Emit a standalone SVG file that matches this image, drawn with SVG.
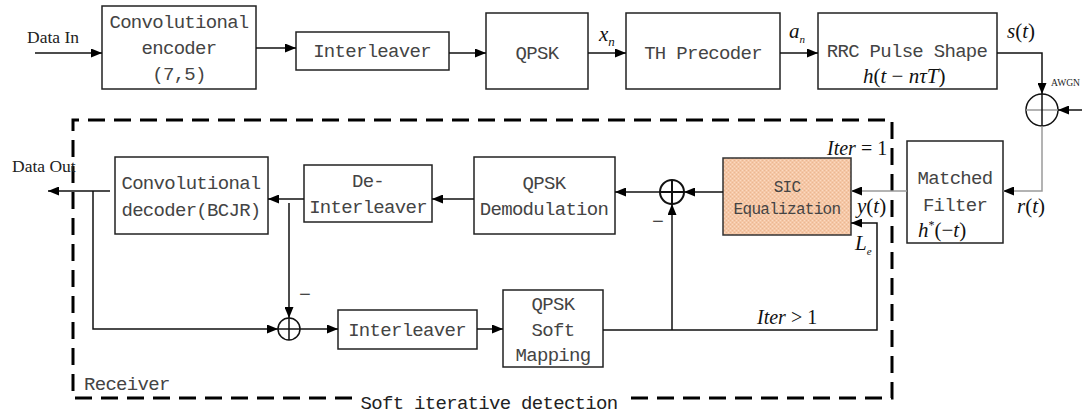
<svg xmlns="http://www.w3.org/2000/svg" width="1082" height="418" viewBox="0 0 1082 418">
  <style>
    .box { fill: #fff; stroke: #222; stroke-width: 1.5; }
    .sic { fill: url(#grain); stroke: #333; stroke-width: 1.5; }
    .t { font-family: "Liberation Mono", "DejaVu Sans Mono", monospace; font-size: 19px; letter-spacing: -0.7px; fill: #444; text-anchor: middle; }
    .ts { font-size: 16px; letter-spacing: -0.7px; }
    .lbl { font-family: "Liberation Serif", "Times New Roman", serif; font-size: 17.5px; fill: #222; }
    .m { font-family: "Liberation Serif", "Times New Roman", serif; font-size: 21px; fill: #111; }
    .i { font-style: italic; }
    .ln { fill: none; stroke: #111; stroke-width: 1.5; }
    .gr { stroke: #9a9a9a; }
    .arr { marker-end: url(#ah); }
    .sum { fill: #fff; stroke: #111; stroke-width: 1.5; }
    .dash { fill: none; stroke: #000; stroke-width: 3; stroke-dasharray: 17 9; }
  </style>
  <defs>
    <marker id="ah" markerUnits="userSpaceOnUse" markerWidth="11" markerHeight="9" refX="11" refY="4.5" orient="auto">
      <path d="M0,0 L11,4.5 L0,9 z" fill="#000"/>
    </marker>
    <pattern id="grain" patternUnits="userSpaceOnUse" width="4" height="4">
      <rect width="4" height="4" fill="#F5C7A6"/>
      <rect x="0" y="0" width="1" height="1" fill="#FBDAC2"/>
      <rect x="2" y="2" width="1" height="1" fill="#FBDAC2"/>
      <rect x="2" y="0" width="1" height="1" fill="#EBB792"/>
      <rect x="0" y="2" width="1" height="1" fill="#EBB792"/>
    </pattern>
  </defs>

  <!-- receiver boundary -->
  <g id="receiver-frame">
    <path class="dash" d="M352,398 H73 V120 H892 V398 H628"/>
    <text class="t" x="84" y="390" style="text-anchor:start">Receiver</text>
    <text class="t" x="489" y="409" style="fill:#222">Soft iterative detection</text>
  </g>

  <!-- transmitter chain -->
  <g id="conv-encoder">
    <rect class="box" x="102" y="6" width="154" height="83"/>
    <text class="t" x="179" y="28">Convolutional</text>
    <text class="t" x="179" y="54">encoder</text>
    <text class="t" x="179" y="80">(7,5)</text>
  </g>
  <g id="interleaver-tx">
    <rect class="box" x="296" y="32" width="153" height="38"/>
    <text class="t" x="372" y="57">Interleaver</text>
  </g>
  <g id="qpsk-tx">
    <rect class="box" x="486" y="13" width="102" height="76"/>
    <text class="t" x="537" y="59">QPSK</text>
  </g>
  <g id="th-precoder">
    <rect class="box" x="626" y="13" width="154" height="76"/>
    <text class="t" x="703" y="59">TH Precoder</text>
  </g>
  <g id="rrc-pulse">
    <rect class="box" x="818" y="13" width="179" height="76"/>
    <text class="t" x="907" y="57">RRC Pulse Shape</text>
    <text class="m" x="863" y="83"><tspan class="i">h</tspan>(<tspan class="i">t</tspan> − <tspan class="i">nτT</tspan>)</text>
  </g>
  <g id="awgn-sum">
    <circle class="sum" cx="1042" cy="110" r="16"/>
    <line x1="1026" y1="110" x2="1058" y2="110" stroke="#9a9a9a" stroke-width="1.5"/>
    <line x1="1042" y1="94" x2="1042" y2="126" stroke="#111" stroke-width="1.5"/>
    <text class="lbl" x="1051" y="86" style="font-size:10.5px" textLength="29" lengthAdjust="spacingAndGlyphs">AWGN</text>
  </g>

  <!-- receiver blocks -->
  <g id="matched-filter">
    <rect class="box" x="907" y="141" width="96" height="102"/>
    <text class="t" x="955" y="184">Matched</text>
    <text class="t" x="955" y="211">Filter</text>
    <text class="m" x="918" y="237"><tspan class="i">h</tspan><tspan dy="-8" style="font-size:12px">*</tspan><tspan dy="8">(−</tspan><tspan class="i">t</tspan>)</text>
  </g>
  <g id="sic-equalization">
    <rect class="sic" x="723" y="158" width="128" height="77"/>
    <text class="t ts" x="787" y="192">SIC</text>
    <text class="t ts" x="787" y="214">Equalization</text>
  </g>
  <g id="cancel-sum">
    <circle class="sum" cx="672" cy="192" r="12" style="stroke-width:2"/>
    <path class="ln" d="M660,192 H684 M672,180 V204" style="stroke-width:2"/>
  </g>
  <g id="qpsk-demod">
    <rect class="box" x="474" y="157" width="141" height="77"/>
    <text class="t" x="544" y="189">QPSK</text>
    <text class="t" x="544" y="215">Demodulation</text>
  </g>
  <g id="deinterleaver">
    <rect class="box" x="304" y="165" width="128" height="57"/>
    <text class="t" x="368" y="187">De-</text>
    <text class="t" x="368" y="213">Interleaver</text>
  </g>
  <g id="conv-decoder">
    <rect class="box" x="115" y="157" width="153" height="77"/>
    <text class="t" x="191" y="189">Convolutional</text>
    <text class="t" x="191" y="216">decoder(BCJR)</text>
  </g>
  <g id="extrinsic-sum">
    <circle class="sum" cx="289" cy="329" r="11"/>
    <path class="ln" d="M278,329 H300 M289,318 V340"/>
  </g>
  <g id="interleaver-rx">
    <rect class="box" x="338" y="310" width="139" height="39"/>
    <text class="t" x="407" y="336">Interleaver</text>
  </g>
  <g id="qpsk-soft-mapping">
    <rect class="box" x="503" y="290" width="100" height="77"/>
    <text class="t" x="553" y="310">QPSK</text>
    <text class="t" x="553" y="336">Soft</text>
    <text class="t" x="553" y="361">Mapping</text>
  </g>

  <!-- connectors -->
  <g id="connectors">
    <line class="ln arr" x1="35" y1="53" x2="102" y2="53"/>
    <line class="ln arr" x1="256" y1="48" x2="296" y2="48"/>
    <line class="ln arr" x1="449" y1="53" x2="486" y2="53"/>
    <line class="ln arr" x1="588" y1="53" x2="626" y2="53"/>
    <line class="ln arr" x1="780" y1="53" x2="818" y2="53"/>
    <path class="ln arr" d="M997,53 H1042 V94"/>
    <line class="ln arr" x1="1082" y1="110" x2="1058" y2="110"/>
    <path class="ln gr arr" d="M1042,126 V191 H1003"/>
    <line class="ln gr arr" x1="907" y1="191" x2="851" y2="191"/>
    <line class="ln arr" x1="723" y1="192" x2="684" y2="192"/>
    <line class="ln arr" x1="660" y1="192" x2="615" y2="192"/>
    <line class="ln arr" x1="474" y1="199" x2="432" y2="199"/>
    <line class="ln arr" x1="304" y1="199" x2="268" y2="199"/>
    <line class="ln arr" x1="289" y1="203" x2="289" y2="318"/>
    <line class="ln arr" x1="110" y1="191" x2="48" y2="191"/>
    <path class="ln arr" d="M93,191 V329 H278"/>
    <line class="ln arr" x1="300" y1="329" x2="338" y2="329"/>
    <line class="ln arr" x1="477" y1="329" x2="503" y2="329"/>
    <path class="ln arr" d="M603,330 H877 V223 H851"/>
    <line class="ln arr" x1="672" y1="330" x2="672" y2="204"/>
  </g>

  <!-- signal labels -->
  <g id="labels">
    <text class="lbl" x="27" y="43">Data In</text>
    <text class="lbl" x="12" y="172">Data Out</text>
    <text class="m" x="599" y="41"><tspan class="i">x</tspan><tspan class="i" dy="5" style="font-size:13px">n</tspan></text>
    <text class="m" x="789" y="38"><tspan class="i">a</tspan><tspan class="i" dy="5" style="font-size:11px">n</tspan></text>
    <text class="m" x="1007" y="38"><tspan class="i">s</tspan>(<tspan class="i">t</tspan>)</text>
    <text class="m" x="827" y="155" style="font-size:20px"><tspan class="i">Iter</tspan> = 1</text>
    <text class="m" x="857" y="213"><tspan class="i">y</tspan>(<tspan class="i">t</tspan>)</text>
    <text class="m" x="855" y="250"><tspan class="i">L</tspan><tspan class="i" dy="5" style="font-size:11px">e</tspan></text>
    <text class="m" x="1017" y="213"><tspan class="i">r</tspan>(<tspan class="i">t</tspan>)</text>
    <text class="m" x="757" y="324" style="font-size:20px"><tspan class="i">Iter</tspan> &gt; 1</text>
    <text class="m" x="652" y="228">−</text>
    <text class="m" x="299" y="301">−</text>
  </g>
</svg>
